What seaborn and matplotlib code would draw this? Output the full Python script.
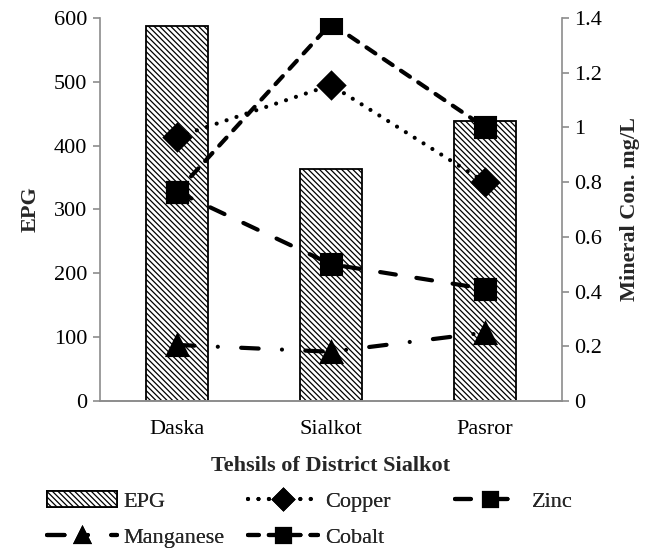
import seaborn as sns
import pandas as pd
import matplotlib.pyplot as plt
from matplotlib.ticker import FixedLocator

# Data
tehsils = ["Daska", "Sialkot", "Pasror"]
epg = [587, 363, 439]
copper = [0.965, 1.155, 0.80]
zinc = [0.765, 0.50, 0.41]
manganese = [0.205, 0.18, 0.25]
cobalt = [0.765, 1.38, 1.0]

sns.set_style("white")
plt.rcParams["font.family"] = "serif"
plt.rcParams["font.serif"] = ["Liberation Serif", "DejaVu Serif"]
plt.rcParams["font.size"] = 16
plt.rcParams["hatch.linewidth"] = 0.9

W, H = 656, 550
fig = plt.figure(figsize=(W / 100, H / 100), dpi=100)
ax = fig.add_axes([100 / W, 1 - 401 / H, 462 / W, 383 / H])

df = pd.DataFrame({"Tehsil": tehsils, "EPG": epg})
sns.barplot(data=df, x="Tehsil", y="EPG", ax=ax, color="white", width=0.4,
            edgecolor="black", linewidth=1.3, hatch="\\\\\\\\\\\\", label="EPG")

ax2 = ax.twinx()
lw = 3.0
series = [
    ("Copper", copper, "D", 13, (0, (0.01, 2.5))),
    ("Zinc", zinc, "s", 14, (0, (3.8, 5.0))),
    ("Manganese", manganese, "^", 14, (0, (4.2, 5.6, 0.01, 5.6))),
    ("Cobalt", cobalt, "s", 14, (0, (2.6, 2.4))),
]
for name, vals, mk, ms, ls in series:
    sdf = pd.DataFrame({"Tehsil": tehsils, "val": vals})
    sns.pointplot(data=sdf, x="Tehsil", y="val", ax=ax2, color="black",
                  marker=mk, markersize=ms, linestyle=ls, linewidth=lw,
                  dash_capstyle="round", label=name)

handles = {}
for a in (ax, ax2):
    h, l = a.get_legend_handles_labels()
    handles.update(dict(zip(l, h)))
    if a.get_legend() is not None:
        a.get_legend().remove()

ax.set_ylim(0, 600)
ax2.set_ylim(0, 1.4)
ax.set_xlim(-0.5, 2.5)
ax2.set_xlim(-0.5, 2.5)
ax.set_yticks(range(0, 601, 100))
ax2.set_yticks([0, 0.2, 0.4, 0.6, 0.8, 1.0, 1.2, 1.4])
ax2.set_yticklabels(["0", "0.2", "0.4", "0.6", "0.8", "1", "1.2", "1.4"])

ax.set_xlabel("Tehsils of District Sialkot", fontweight="bold", labelpad=12)
ax.set_ylabel("EPG", fontweight="bold", labelpad=10)
ax2.set_ylabel("Mineral Con. mg/L", fontweight="bold", labelpad=13)

for a in (ax, ax2):
    for side in ("left", "right", "bottom"):
        a.spines[side].set_visible(True)
        a.spines[side].set_color("#8c8c8c")
        a.spines[side].set_linewidth(1.2)
    a.spines["top"].set_visible(False)
    a.tick_params(colors="#8c8c8c", labelcolor="black", labelsize=16, length=5,
                  width=1.2, direction="out", pad=4)
ax.spines["right"].set_visible(False)
ax2.spines["left"].set_visible(False)
ax.tick_params(axis="x", length=0, pad=14)
ax.xaxis.set_minor_locator(FixedLocator([-0.5, 0.5, 1.5, 2.5]))
ax.tick_params(axis="x", which="minor", length=5, width=1.2, color="#8c8c8c")
ax.grid(False)
ax2.grid(False)

# legend laid out in three columns, one legend per column
columns = [(47, ["EPG", "Manganese"]), (248, ["Copper", "Cobalt"]), (455, ["Zinc"])]
for x_px, names in columns:
    leg = fig.legend([handles[n] for n in names], names, loc="upper left",
                     bbox_to_anchor=(x_px / W, 1 - 491 / H), frameon=False,
                     handlelength=70 / 22.2, handletextpad=0.3, labelspacing=0.72,
                     borderpad=0, borderaxespad=0, markerscale=0.75, fontsize=16)
    fig.add_artist(leg)

fig.savefig("out.png", dpi=100)
